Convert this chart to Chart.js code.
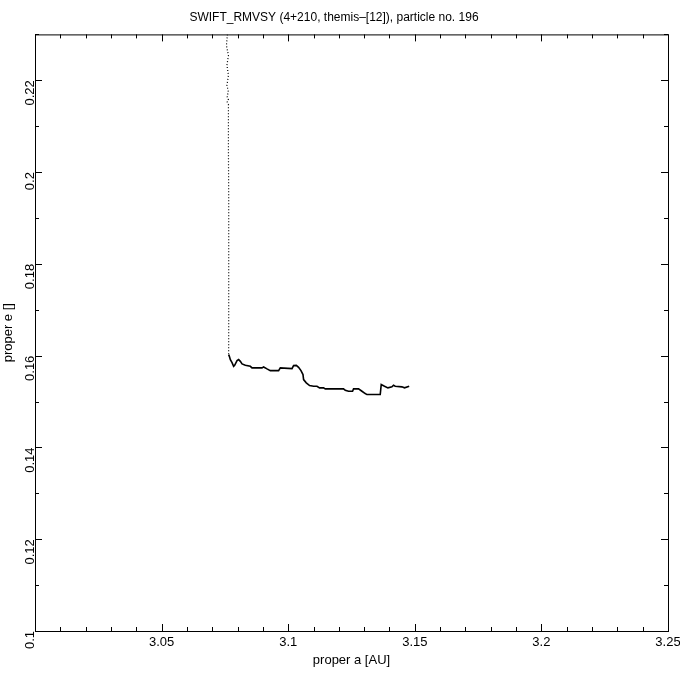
<!DOCTYPE html>
<html>
<head>
<meta charset="utf-8">
<script src="https://cdn.jsdelivr.net/npm/chart.js@4"></script>
<style>
  body { margin: 0; background: #fff; }
</style>
</head>
<body>
<canvas id="orbit" width="680" height="680"></canvas>
<script>
// tick labels
const xTicks = [3.0, 3.05, 3.1, 3.15, 3.2, 3.25];
const yTicks = [0.1, 0.12, 0.14, 0.16, 0.18, 0.2, 0.22];

// dotted part: particle drifting down in e at almost fixed a
const driftA = [3.0760, 3.0756, 3.0764, 3.0758, 3.0764, 3.0758, 3.0764, 3.0758, 3.0764, 3.0758,
                3.0764, 3.0764, 3.0764, 3.0765, 3.0765, 3.0765, 3.0765, 3.07648];
const driftE = [0.2300, 0.2276, 0.2254, 0.2233, 0.2211, 0.2189, 0.2174, 0.2165, 0.2159, 0.2154,
                0.2148, 0.2124, 0.2048, 0.1939, 0.1830, 0.1722, 0.1657, 0.1602];

// solid part: the track in proper a / proper e
const trackA = [3.07648, 3.07676, 3.07715, 3.07782, 3.07845, 3.07885, 3.07980, 3.08043, 3.08110, 3.08177,
                3.08307, 3.08504, 3.08571, 3.08966, 3.09029, 3.09163, 3.09294, 3.09621, 3.09688, 3.10150,
                3.10213, 3.10320, 3.10410, 3.10505, 3.10584, 3.10608, 3.10714, 3.10845, 3.11002, 3.11137,
                3.11239, 3.11397, 3.11464, 3.12186, 3.12253, 3.12384, 3.12541, 3.12581, 3.12778, 3.12913,
                3.13043, 3.13110, 3.13635, 3.13674, 3.13804, 3.13939, 3.14097, 3.14160, 3.14227, 3.14491,
                3.14594, 3.14779];
const trackE = [0.16022, 0.15985, 0.15913, 0.15848, 0.15767, 0.15789, 0.15891, 0.15913, 0.15876, 0.15820,
                0.15789, 0.15767, 0.15733, 0.15733, 0.15754, 0.15711, 0.15674, 0.15674, 0.15733, 0.15717,
                0.15783, 0.15789, 0.15746, 0.15674, 0.15587, 0.15478, 0.15407, 0.15348, 0.15333, 0.15333,
                0.15298, 0.15298, 0.15276, 0.15276, 0.15246, 0.15224, 0.15224, 0.15276, 0.15276, 0.15224,
                0.15174, 0.15152, 0.15152, 0.15370, 0.15333, 0.15298, 0.15320, 0.15354, 0.15333, 0.15320,
                0.15298, 0.15333];

const pts = (xs, ys) => xs.map((x, i) => ({ x: x, y: ys[i] }));

// inward tick marks on all four sides (major + minor)
const inwardTicks = {
  id: 'inwardTicks',
  afterDraw(chart) {
    const { ctx, chartArea: a, scales } = chart;
    ctx.save();
    ctx.strokeStyle = '#000';
    ctx.lineWidth = 1;
    ctx.beginPath();
    for (let i = 0; i <= 25; i++) {
      const v = 3.0 + i * 0.01;
      const px = Math.round(scales.x.getPixelForValue(v)) + 0.5;
      const len = i % 5 === 0 ? 7 : 4;
      ctx.moveTo(px, a.bottom); ctx.lineTo(px, a.bottom - len);
      ctx.moveTo(px, a.top); ctx.lineTo(px, a.top + len);
    }
    for (let i = 0; i <= 13; i++) {
      const v = 0.1 + i * 0.01;
      const py = Math.round(scales.y.getPixelForValue(v)) + 0.5;
      const len = i % 2 === 0 ? 7 : 4;
      ctx.moveTo(a.left, py); ctx.lineTo(a.left + len, py);
      ctx.moveTo(a.right, py); ctx.lineTo(a.right - len, py);
    }
    ctx.stroke();
    ctx.strokeRect(a.left + 0.5, a.top + 0.5, a.right - a.left, a.bottom - a.top);
    ctx.restore();
  }
};

Chart.defaults.color = '#000';
Chart.defaults.font.family = '"Liberation Sans", Arial, sans-serif';

new Chart(document.getElementById('orbit'), {
  type: 'scatter',
  data: {
    datasets: [{
      data: pts(driftA, driftE),
      showLine: true,
      borderColor: '#000',
      borderWidth: 1.2,
      borderDash: [1, 2],
      pointRadius: 0
    }, {
      data: pts(trackA, trackE),
      showLine: true,
      borderColor: '#000',
      borderWidth: 1.6,
      pointRadius: 0
    }]
  },
  options: {
    responsive: false,
    animation: false,
    layout: { padding: { left: 0, right: 12, top: 0, bottom: 0 } },
    plugins: {
      legend: { display: false },
      tooltip: { enabled: false },
      title: {
        display: true,
        text: 'SWIFT_RMVSY (4+210, themis\u2013[12]), particle no. 196',
        color: '#000',
        font: { size: 12, weight: 'normal' },
        padding: { top: 10, bottom: 10 }
      }
    },
    scales: {
      x: {
        type: 'linear',
        min: 3.0,
        max: 3.25,
        afterBuildTicks: s => { s.ticks = xTicks.map(v => ({ value: v })); },
        afterFit: s => { s.height = 49; s.paddingLeft = 0; s.paddingRight = 0; },
        grid: { display: false, drawTicks: false },
        border: { display: false },
        ticks: {
          padding: 4,
          font: { size: 13 },
          callback: v => (v === 3.0 ? '' : String(+v.toFixed(2)))
        },
        title: {
          display: true,
          text: 'proper a [AU]',
          font: { size: 13 },
          padding: { top: 0, bottom: 12 }
        }
      },
      y: {
        type: 'linear',
        min: 0.1,
        max: 0.23,
        afterBuildTicks: s => { s.ticks = yTicks.map(v => ({ value: v })); },
        afterFit: s => { s.width = 35; s.paddingTop = 0; s.paddingBottom = 0; },
        grid: { display: false, drawTicks: false },
        border: { display: false },
        ticks: {
          padding: 5,
          minRotation: 90,
          maxRotation: 90,
          font: { size: 13 },
          callback: v => String(+v.toFixed(2))
        },
        title: {
          display: true,
          text: 'proper e []',
          font: { size: 13 },
          padding: { top: 1, bottom: 0 }
        }
      }
    }
  },
  plugins: [inwardTicks]
});
</script>
</body>
</html>
